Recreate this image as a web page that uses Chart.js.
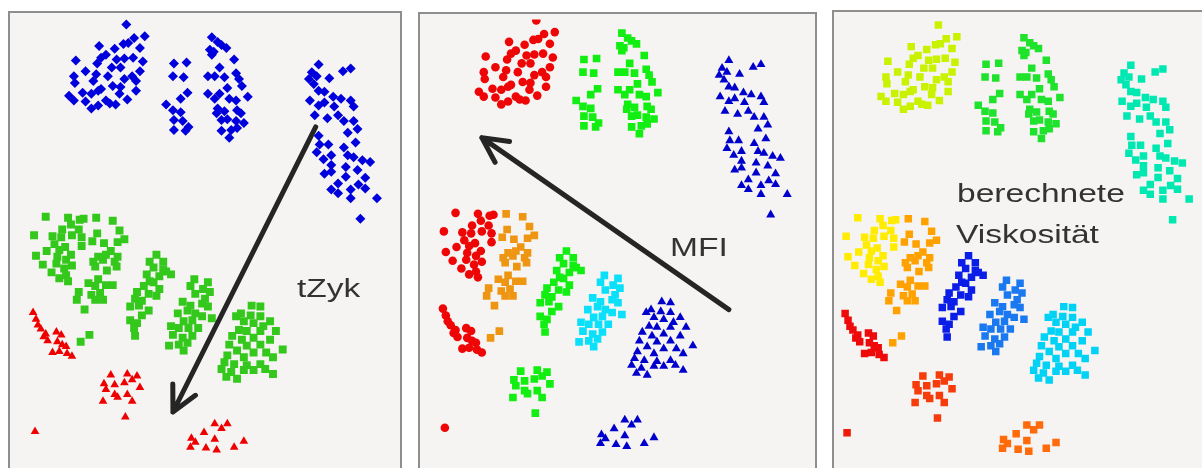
<!DOCTYPE html>
<html>
<head>
<meta charset="utf-8">
<script src="https://cdn.jsdelivr.net/npm/chart.js@4/dist/chart.umd.min.js"></script>
<style>
  html, body { margin: 0; padding: 0; background: #ffffff; }
  body { width: 1202px; height: 468px; overflow: hidden; position: relative;
         font-family: "Liberation Sans", Arial, sans-serif; }
  .panel { position: absolute; border: 2px solid #8e8e8e; background: #f6f4f2; }
  .panel canvas { display: block; }
  .lbl { position: absolute; color: #333333; font-size: 26px; line-height: 26px;
         white-space: nowrap; transform: scaleX(1.29); transform-origin: 0 0; }
</style>
</head>
<body>
<div class="panel" style="left:8px;top:11px;"><canvas id="p1" width="390" height="470"></canvas></div>
<div class="panel" style="left:418px;top:12px;"><canvas id="p2" width="395" height="470"></canvas></div>
<div class="panel" style="left:832px;top:10px;"><canvas id="p3" width="376" height="470"></canvas></div>

<div class="lbl" style="left:297px;top:275px;">tZyk</div>
<div class="lbl" style="left:670px;top:234px;">MFI</div>
<div class="lbl" style="left:957px;top:180px;">berechnete</div>
<div class="lbl" style="left:956px;top:221px;">Viskosität</div>

<script>
// Embedding coordinates of the samples, grouped by cluster.
const clusterA = [[124,451],[143,439],[132,437],[126,432],[121,431],[96,429],[138,427],[112,426],[103,420],[131,417],[122,416],[114,415],[98,417],[72,414],[141,413],[94,411],[109,407],[118,407],[138,403],[82,403],[70,398],[93,400],[105,398],[130,398],[122,395],[90,393],[71,391],[134,393],[79,381],[98,385],[110,388],[118,387],[65,378],[117,380],[134,383],[88,380],[70,373],[82,372],[103,373],[113,369],[125,374],[88,365],[95,368],[107,370],[95,383]];
const clusterB = [[173,411],[186,412],[172,398],[183,397],[187,381],[180,375],[165,369],[172,363],[180,361],[173,353],[182,352],[188,346],[173,343],[185,342],
  [212,438],[218,433],[222,430],[227,427],[210,425],[214,423],[212,420],[235,415],[220,407],[208,398],[215,398],[225,397],[237,401],[240,395],[228,386],[208,380],[220,380],[243,388],[215,375],[230,375],[237,373],[249,377],[218,365],[225,362],[238,363],[242,360],[217,360],[222,353],[228,354],[237,352],[245,350],[222,342],[232,343],[238,345],[230,335]];
const clusterC = [[322,410],[315,402],[312,395],[320,398],[333,396],[347,403],[355,406],[317,390],[322,383],[328,382],[337,377],[313,373],[322,368],[328,371],[338,367],[345,375],[355,373],[358,367],[318,358],[331,355],[342,358],[348,352],[358,352],[362,344],[352,340],[322,337],[323,328],[332,328],[348,325],[360,330],[320,320],[327,313],[335,317],[352,317],[358,315],[367,312],[375,310],[335,307],[350,305],[328,298],[335,300],[362,302],[342,288],[350,295],[370,294],[335,282],[342,278],[355,282],[363,287],[370,283],[355,273],[382,273],[365,252]];
const clusterD1 = [[41,254],[64,253],[76,251],[80,252],[67,246],[58,241],[75,241],[29,235],[48,234],[57,233],[68,235],[78,233],[50,226],[78,224],[42,219],[55,220],[61,223],[31,214],[67,215],[53,213],[62,210],[38,205],[52,206],[68,204],[47,197],[60,201],[55,191],[64,188],[62,194]];
const clusterD2 = [[93,253],[110,250],[117,240],[94,237],[122,231],[89,229],[101,227],[115,228],[108,219],[103,215],[95,213],[115,213],[90,208],[100,210],[112,208],[92,203],[114,203],[104,199],[85,186],[95,190],[92,183],[103,184],[110,184],[75,177],[88,174],[97,176],[100,169],[92,169],[73,169],[81,159],[86,133],[77,126]];
const clusterE1 = [[155,215],[148,208],[162,208],[152,202],[162,200],[170,195],[145,195],[158,193],[148,188],[142,183],[152,187],[158,180],[135,177],[147,175],[155,173],[133,170],[140,168],[128,162],[137,163],[147,158],[140,153],[128,148],[135,145],[132,140],[133,132],[165,198]];
const clusterE2 = [[194,190],[208,187],[190,183],[203,180],[210,177],[195,175],[205,170],[182,167],[190,163],[202,165],[208,162],[177,155],[187,158],[195,155],[202,152],[212,150],[183,147],[192,148],[170,142],[178,140],[188,140],[198,140],[172,133],[182,130],[192,132],[168,122],[178,123],[187,125],[183,117]];
const clusterE3 = [[253,163],[262,162],[242,155],[252,153],[237,152],[262,152],[272,147],[245,147],[255,145],[265,142],[240,138],[248,137],[262,137],[278,137],[233,132],[255,130],[272,128],[243,128],[230,123],[248,122],[262,123],[285,118],[238,117],[255,115],[268,115],[228,112],[245,110],[275,110],[225,105],[235,103],[248,102],[262,103],[222,98],[232,95],[245,97],[255,97],[267,98],[275,93],[227,90],[238,88]];
const clusterR1 = [[28,156],[31,149],[33,143],[36,139],[41,134],[39,131],[52,136],[57,133],[43,127],[53,126],[58,123],[62,121],[48,115],[55,116],[63,114],[68,111]];
const clusterR2 = [[108,92],[125,93],[135,91],[130,87],[101,83],[112,82],[122,84],[138,79],[103,77],[112,72],[125,72],[100,65],[115,69],[130,65],[123,49]];
const clusterR3 = [[215,42],[228,42],[222,37],[204,33],[191,27],[215,26],[195,23],[245,24],[190,18],[206,17],[217,15],[235,18]];
const clusterSingle = [[30,34]];

// Arrows (start, tip) in embedding coordinates.
const tZykArrow = [[319,346],[172,54]];
const mfiArrow = [[322,155],[68,331]];

// Marker styles.
const blueDiamond  = { shape: 'rectRot',  r: 5.0, color: '#0000dc' };
const greenSquare1 = { shape: 'rect',     r: 5.6, color: '#35c81c' };
const redTriangle  = { shape: 'triangle', r: 5.0, color: '#ee0000' };
const redCircle    = { shape: 'circle',   r: 4.3, color: '#ee0505' };
const greenSquare2 = { shape: 'rect',     r: 5.4, color: '#12ee12' };
const orangeSquare = { shape: 'rect',     r: 5.4, color: '#ee9512' };
const cyanSquare   = { shape: 'rect',     r: 5.4, color: '#0ae0fa' };
const blueTriangle = { shape: 'triangle', r: 5.2, color: '#0000cc' };
const visc = c => ({ shape: 'rect', r: 5.3, color: c });

const arrowPlugin = {
  id: 'clusterArrow',
  afterDatasetsDraw(chart) {
    const arrow = chart.config.options.arrowPts;
    if (!arrow) return;
    const { ctx, scales: { x, y } } = chart;
    const x0 = x.getPixelForValue(arrow[0][0]), y0 = y.getPixelForValue(arrow[0][1]);
    const x1 = x.getPixelForValue(arrow[1][0]), y1 = y.getPixelForValue(arrow[1][1]);
    const back = Math.atan2(y0 - y1, x0 - x1);
    const len = 28, spread = 0.47;
    ctx.save();
    ctx.strokeStyle = '#252525';
    ctx.lineWidth = 5;
    ctx.lineCap = 'round';
    ctx.lineJoin = 'round';
    ctx.beginPath();
    ctx.moveTo(x0, y0);
    ctx.lineTo(x1, y1);
    ctx.moveTo(x1 + len * Math.cos(back + spread), y1 + len * Math.sin(back + spread));
    ctx.lineTo(x1, y1);
    ctx.lineTo(x1 + len * Math.cos(back - spread), y1 + len * Math.sin(back - spread));
    ctx.stroke();
    ctx.restore();
  }
};

function drawPanel(id, range, groups, arrow) {
  new Chart(document.getElementById(id), {
    type: 'scatter',
    data: {
      datasets: groups.map(([pts, st]) => ({
        data: pts.map(p => ({ x: p[0], y: p[1] })),
        pointStyle: st.shape,
        pointRadius: st.r,
        pointHoverRadius: st.r,
        pointBackgroundColor: st.color,
        pointBorderColor: st.color,
        pointBorderWidth: 0,
        showLine: false
      }))
    },
    options: {
      responsive: false,
      animation: false,
      events: [],
      arrowPts: arrow,
      layout: { padding: 0 },
      plugins: { legend: { display: false }, tooltip: { enabled: false } },
      scales: {
        x: { type: 'linear', display: false, min: range[0], max: range[1] },
        y: { type: 'linear', display: false, min: range[2], max: range[3] }
      }
    },
    plugins: [arrowPlugin]
  });
}

// Panel 1: coloured by cycle time (tZyk)
drawPanel('p1', [10, 400, -13, 457], [
  [clusterA, blueDiamond], [clusterB, blueDiamond], [clusterC, blueDiamond],
  [clusterD1, greenSquare1], [clusterD2, greenSquare1], [clusterE1, greenSquare1],
  [clusterE2, greenSquare1], [clusterE3, greenSquare1],
  [clusterR1, redTriangle], [clusterR2, redTriangle], [clusterR3, redTriangle], [clusterSingle, redTriangle]
], tZykArrow);

// Panel 2: coloured by melt flow index (MFI)
drawPanel('p2', [10, 405, -18, 452], [
  [clusterA, redCircle], [clusterB, greenSquare2], [clusterC, blueTriangle],
  [clusterD1, redCircle], [clusterD2, orangeSquare], [clusterE1, greenSquare2],
  [clusterE2, cyanSquare], [clusterE3, blueTriangle],
  [clusterR1, redCircle], [clusterR2, greenSquare2], [clusterR3, blueTriangle], [clusterSingle, redCircle]
], mfiArrow);

// Panel 3: coloured by computed viscosity
drawPanel('p3', [22, 398, -11, 459], [
  [clusterA, visc('#c8f200')], [clusterB, visc('#1fe22c')], [clusterC, visc('#00e8b2')],
  [clusterD1, visc('#ffec00')], [clusterD2, visc('#ffa200')], [clusterE1, visc('#0a1ee8')],
  [clusterE2, visc('#1a78f0')], [clusterE3, visc('#00d2f5')],
  [clusterR1, visc('#ee0a0a')], [clusterR2, visc('#f53c0a')], [clusterR3, visc('#ff6a0a')], [clusterSingle, visc('#ee1a0a')]
], null);
</script>
</body>
</html>
